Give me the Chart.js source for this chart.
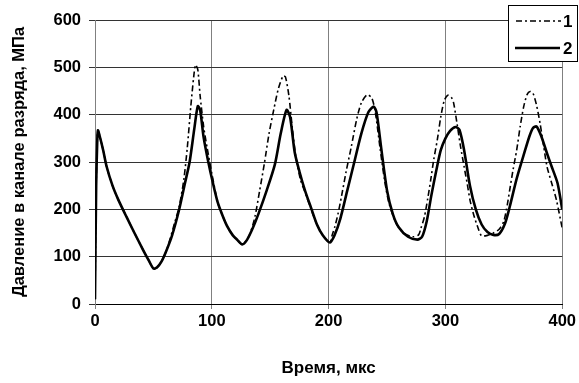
<!DOCTYPE html>
<html><head><meta charset="utf-8">
<script src="https://cdn.jsdelivr.net/npm/chart.js@4"></script>
<style>html,body{margin:0;padding:0;background:#fff}#wrap{width:579px;height:383px}</style>
</head><body><div id="wrap"><canvas id="c" width="579" height="383"></canvas></div>
<script>
const xTicks = [0, 100, 200, 300, 400];
const yTicks = [0, 100, 200, 300, 400, 500, 600];
const seriesNames = ['1', '2'];
const xTitle = 'Время, мкс';
const yTitle = 'Давление в канале разряда, МПа';

// Series 2 (solid)
const t2 = [0,1,2,2.5,4,7,10,15,20,27,34,41,46,50,53,57,61,66,72,77,81,85,88,90,93,97,101,105,109,113,118,122,126,130,135,140,147,154,159,164,167,171,175,180,185,190,195,201,205,210,216,222,228,234,238.5,241,245,250,255,260,268,276,280,284,288,292,296,300,304,308.7,312,316,321,326,331,336,341,346,351,355,361,367,372,375,378,382,387,391,396,400];
const p2 = [10,250,350,367,355,325,290,250,220,184,149,115,92,75,77,90,112,145,199,255,300,370,418,410,352,300,255,215,188,165,145,135,126,135,160,191,240,295,360,410,395,320,280,238,203,168,145,130,145,180,240,300,360,405,417,405,330,240,190,162,142,136,142,175,230,280,325,350,366,374,368,325,250,200,168,152,146,148,170,205,265,315,355,372,375,355,318,290,255,200];

// Series 1 (dash-dot)
const t1 = [0,1,2,2.5,4,7,10,15,20,27,34,41,46,50,53,57,61,64,68,72,76,79,82,84.5,86,88,90,93,96,100,105,109,113,118,122,126,130,133,137,141,145,149,153,157,161,163,166,169,172,176,180,185,190,195,201,203,205.3,208,211,215,219.4,224,228,233,237,240,244,248,252,258,264,272,277,279,282,285,287.4,290,293,296,299,302,305,307,310,313,316,318.6,321,324,328,331,336,341,346,350,353,355.5,358,361,364,367,370,372.5,375,378,381,384,387,391,395,400];
const p1 = [10,250,350,367,355,325,290,250,220,184,149,115,92,75,77,90,112,135,170,205,262,330,417,480,505,495,440,375,330,276,215,188,165,145,135,126,135,150,185,240,297,360,410,455,482,480,440,370,310,262,235,200,168,145,130,145,163,190,227,280,332,390,425,442,435,405,330,260,210,170,150,142,146,160,184,225,262,305,346,395,430,441,437,425,380,332,290,255,220,190,160,144,145,150,158,175,210,248,285,325,375,417,443,449,445,420,382,335,290,255,220,160];

const toPts = (t, p) => t.map((x, i) => ({x, y: p[i]}));
const FONT = "'Liberation Sans', Arial, sans-serif";
const DASH = [6, 3, 2, 3];

const legendPlugin = {
  id: 'boxLegend',
  afterDraw(chart) {
    const ctx = chart.ctx;
    ctx.save();
    ctx.fillStyle = '#fff';
    ctx.fillRect(508.5, 5.5, 69, 56);
    ctx.strokeStyle = '#000';
    ctx.lineWidth = 1;
    ctx.strokeRect(508.5, 5.5, 69, 56);
    ctx.beginPath();
    ctx.setLineDash(DASH);
    ctx.lineWidth = 1.6;
    ctx.moveTo(516, 21);
    ctx.lineTo(561, 21);
    ctx.stroke();
    ctx.beginPath();
    ctx.setLineDash([]);
    ctx.lineWidth = 2.5;
    ctx.moveTo(515, 48);
    ctx.lineTo(560, 48);
    ctx.stroke();
    ctx.fillStyle = '#000';
    ctx.font = 'bold 17px ' + FONT;
    ctx.textBaseline = 'middle';
    ctx.textAlign = 'left';
    ctx.fillText(seriesNames[0], 563, 22);
    ctx.fillText(seriesNames[1], 563, 49);
    ctx.restore();
  }
};

new Chart(document.getElementById('c'), {
  type: 'line',
  data: {
    datasets: [
      {label: seriesNames[0], data: toPts(t1, p1), borderColor: '#000', borderWidth: 1.6, borderDash: DASH, pointRadius: 0, tension: 0.25, fill: false},
      {label: seriesNames[1], data: toPts(t2, p2), borderColor: '#000', borderWidth: 2.6, pointRadius: 0, tension: 0.25, fill: false}
    ]
  },
  options: {
    responsive: false,
    animation: false,
    devicePixelRatio: 1,
    layout: {padding: {left: 0, right: 13, top: 20, bottom: 0}},
    plugins: {legend: {display: false}, tooltip: {enabled: false}},
    scales: {
      x: {
        type: 'linear', min: 0, max: 400,
        afterBuildTicks: s => { s.ticks = xTicks.map(v => ({value: v})); },
        afterFit: s => { s.height = 79; },
        ticks: {color: '#000', font: {family: FONT, size: 16.5, weight: 'bold'}, padding: 3, maxRotation: 0},
        grid: {color: '#808080', lineWidth: 1, tickLength: 5, drawTicks: true},
        border: {color: '#000', width: 1},
        title: {display: true, text: xTitle, color: '#000', font: {family: FONT, size: 17, weight: 'bold'}, padding: {top: 0, bottom: 4}}
      },
      y: {
        type: 'linear', min: 0, max: 600,
        afterBuildTicks: s => { s.ticks = yTicks.map(v => ({value: v})); },
        afterFit: s => { s.width = 95; },
        ticks: {color: '#000', font: {family: FONT, size: 16.5, weight: 'bold'}, padding: 8},
        grid: {color: '#333', lineWidth: 1, tickLength: 6, drawTicks: true},
        border: {color: '#808080', width: 1},
        title: {display: true, text: yTitle, color: '#000', font: {family: FONT, size: 16.5, weight: 'bold'}, padding: {top: 10, bottom: 0}}
      }
    }
  },
  plugins: [legendPlugin]
});
</script>
</body></html>
